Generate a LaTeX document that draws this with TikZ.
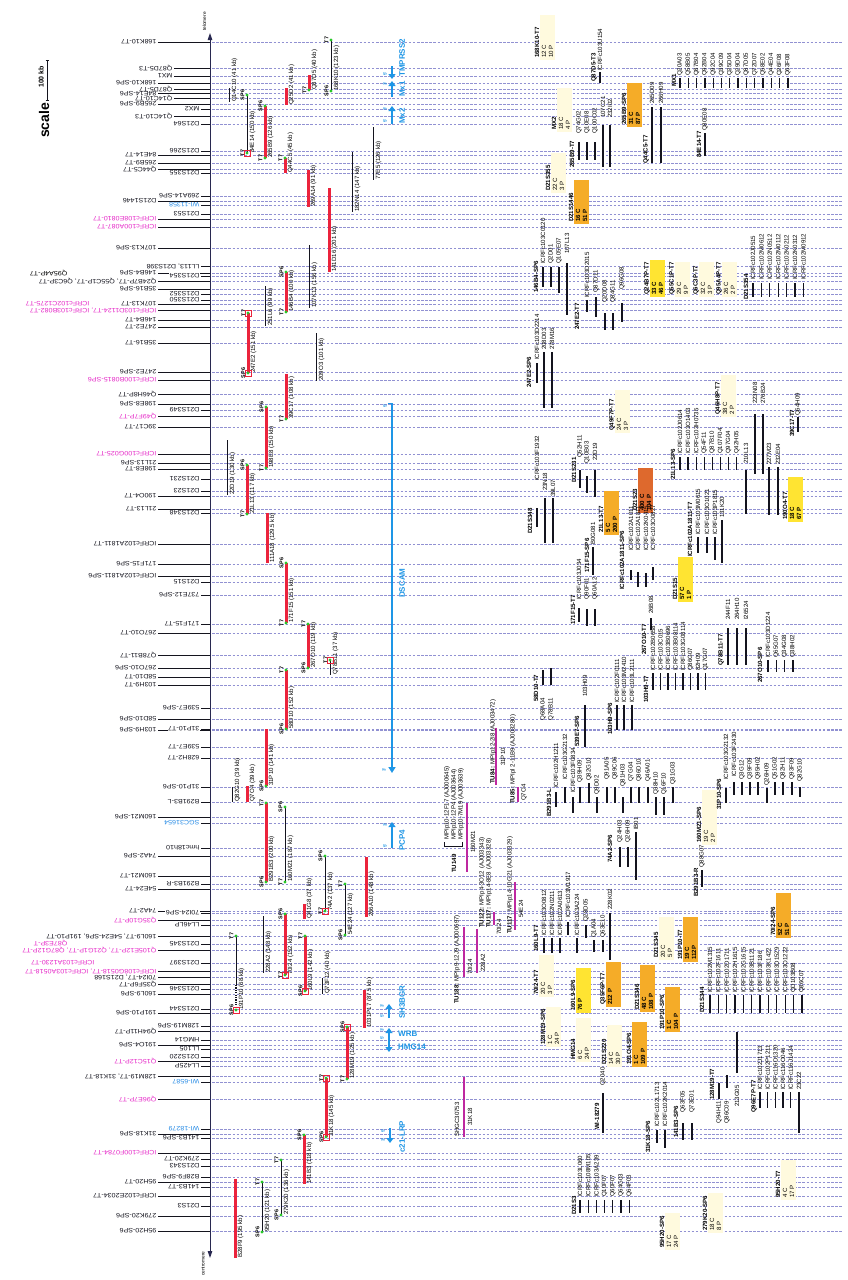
\documentclass[tikz,border=0pt]{standalone}
\usepackage{fontspec}
\setmainfont{Liberation Sans}
\usetikzlibrary{arrows.meta}
\definecolor{axcol}{RGB}{40,40,80}
\definecolor{dashc}{RGB}{145,145,210}
\definecolor{cM}{RGB}{230,40,200}
\definecolor{cB}{RGB}{40,140,230}
\definecolor{cK}{RGB}{20,20,30}
\definecolor{barred}{RGB}{235,35,60}
\definecolor{dotg}{RGB}{40,200,40}
\definecolor{genec}{RGB}{30,150,230}
\definecolor{tumag}{RGB}{190,40,160}
\definecolor{bxpale}{RGB}{255,250,222}
\definecolor{bxyel}{RGB}{255,228,50}
\definecolor{bxor}{RGB}{245,172,40}
\definecolor{bxdk}{RGB}{222,105,45}
\tikzset{
 lbl/.style={font=\fontsize{6.3}{7}\selectfont, inner sep=0.3pt, xscale=1.13, rotate=180, anchor=west},
 vt/.style={font=\fontsize{6.1}{6.8}\selectfont, inner sep=0pt, rotate=90, anchor=west},
 vtb/.style={vt, font=\fontsize{6.1}{6.8}\selectfont\bfseries},
 vte/.style={vt, anchor=east},
 endl/.style={font=\fontsize{5.4}{6}\selectfont\bfseries, inner sep=0pt, rotate=90, anchor=south},
 dl/.style={dashc, line width=0.35pt, dash pattern=on 2.5pt off 1.6pt},
 leader/.style={cK, line width=0.6pt},
 rbar/.style={barred, line width=3pt},
 kbar/.style={cK, line width=1pt},
 cdl/.style={cK, line width=1.3pt},
 tubar/.style={tumag, line width=2.6pt},
 gene/.style={genec, line width=2.4pt, -{Triangle[length=5pt,width=7pt]}},
 glab/.style={font=\fontsize{8}{9}\selectfont\bfseries, text=genec, inner sep=0pt, rotate=90, anchor=west},
 glabh/.style={font=\fontsize{8}{9}\selectfont\bfseries, text=genec, inner sep=0pt, anchor=west},
 prm/.style={font=\fontsize{4.5}{5}\selectfont\bfseries, text=genec, inner sep=0pt, rotate=90},
}
\newcommand\BAC[7]{%
  \draw[#1] (#2,#3) -- (#2,#4);
  \node[vt] at ({#2+5.5},#4) {#5};
  \if\relax\detokenize{#6}\relax\else
    \fill[dotg] (#2,#3) circle (1.7);
    \node[endl] at ({#2-2.5},#3) {#6};
  \fi
  \if\relax\detokenize{#7}\relax\else
    \fill[dotg] (#2,#4) circle (1.7);
    \node[endl] at ({#2-2.5},#4) {#7};
  \fi}
\newcommand\RSQ[2]{\draw[barred, line width=0.6pt] ({#1-3},{#2-3}) rectangle ({#1+3},{#2+3});}
\newcommand\CD[5]{\draw[cdl] ({#1},#2) -- ({#1},#3); \node[vt] at ({#1},#4) {#5};}
\newcommand\CDB[5]{\draw[cdl] ({#1},#2) -- ({#1},#3); \node[vte] at ({#1},#4) {#5};}
\newcommand\MK[3]{\node[vtb] at (#1,#2) {#3};}
\newcommand\CDROW[6]{\foreach \cdname [count=\cdi from 0] in {#6} {\CD{#1+#2*\cdi}{#3}{#4}{#5}{\cdname}}}
\newcommand\YBX[8]{%
  \fill[#1] (#2,#3) rectangle ({#2+15},#4);
  \node[vtb] at ({#2-3},{#4-2}) {#5};
  \node[#8] at ({#2+4},{#4-2}) {#6};
  \node[#8] at ({#2+11},{#4-2}) {#7};}
\def\marklist{42/157/cK/168K10-T7, 68.5/173/cK/Q87D5-T3, 76/173/cK/MX1, 83/157/cK/168K10-SP6,
89/173/cK/Q87D5-T7, 93.5/157/cK/84E14-SP6, 98.5/173/cK/Q14C10-T7, 104/157/cK/265B9-SP6,
109/200/cK/MX2, 116/173/cK/Q14C10-T3, 124/200/cK/D21S64, 151/200/cK/D21S266,
155/157/cK/84E14-T7, 163/157/cK/265B9-T7, 169/157/cK/Q44C5-T7, 173/200/cK/D21S355,
196/200/cK/269A14-SP6, 201/157/cK/D21S1446, 205/200/cB/WI-11358, 214/200/cK/D21S53,
219/157/cM/ICRFc108E0810-T7, 227/157/cM/ICRFc100A087-T7, 248/157/cK/107K13-SP6,
266/200/cK/{LL113, D21S398}, 273/157/cK/146B4-SP6, 276/200/cK/D21S354,
281/157/cK/{Q24B7P-T7, Q55C1P-T7, Q6C3P-T7}, 289/157/cK/35B16-SP6, 294/200/cK/D21S352,
300/200/cK/D21S350, 304/157/cK/107K13-T7, 310/157/cM/{ICRFc103D1124-T7, ICRFc103B082-T7},
320/157/cK/146B4-T7, 327/157/cK/247E2-T7, 343/157/cK/35B16-T7, 372/157/cK/247E2-SP6,
380/157/cM/ICRFc100B0815-SP6, 394/157/cK/Q46H8P-T7, 404/157/cK/198E8-SP6, 410/200/cK/D21S349,
416/157/cM/Q49F7P-T7, 427/157/cK/39C17-T7, 454/157/cM/ICRFc100G025-T7, 463/157/cK/21L13-SP6,
469/157/cK/198E8-T7, 479/200/cK/D21S231, 491/200/cK/D21S23, 496/157/cK/190O4-T7,
509/157/cK/21L13-T7, 513/200/cK/D21S348, 544/157/cK/ICRFc102A1811-T7, 564/157/cK/171F15-SP6,
576/157/cK/ICRFc102A1811-SP6, 582/200/cK/D21S15, 595/200/cK/737E12-SP6, 624/200/cK/171F15-T7,
633/157/cK/267O10-T7, 655/157/cK/Q78B11-T7, 668/157/cK/267O10-SP6, 677/157/cK/58D10-T7,
685/157/cK/103H9-T7, 708/200/cK/539E7-SP6, 719/157/cK/58D10-SP6, 729/200/cK/31P10-T7,
730/157/cK/103H9-SP6, 747/200/cK/539E7-T7, 758/200/cK/628H2-T7, 787/200/cK/31P10-SP6,
802/200/cK/B291B3-L, 817/157/cK/160M21-SP6, 823/200/cB/SGC31654, 848/200/cK/hmc18h10,
856/157/cK/74A2-SP6, 876/157/cK/160M21-T7, 884/200/cK/B291B3-R, 889/157/cK/54E24-T7,
911/157/cK/74A2-T7, 913/200/cK/70I24-SP6, 920/157/cM/Q35G10P-T7, 925/200/cK/LL46LP,
936/157/cK/{160L9-T7, 54E24-SP6, 191P10-T7}, 944/200/cK/D21S345,
950/157/cM/{Q105E12P-T7, Q21G1P-T7, Q87G12P-T7}, 963/200/cK/D21S397,
971/157/cM/{ICRFc108G0518-T7, ICRFc103A0518-T7}, 977/157/cK/{70I24-T7, D21S168},
984/157/cK/Q35F6P-T7, 989/200/cK/D21S346, 994/157/cK/160L9-SP6, 1009/200/cK/D21S344,
1013/157/cK/191P10-SP6, 1026/200/cK/128M19-SP6, 1031/157/cK/Q94H11P-T7, 1040/200/cK/HMG14,
1045/157/cK/191O4-SP6, 1049/200/cK/LL105, 1057/200/cK/D21S220, 1061/157/cM/Q15C12P-T7,
1066/200/cK/LL425P, 1076/157/cK/{128M19-T7, 31K18-T7}, 1082/200/cB/WI-6587,
1099/157/cM/Q96E7P-T7, 1129/200/cB/WI-18279, 1134/157/cK/31K18-SP6, 1138/200/cK/141B3-SP6,
1153/157/cM/ICRFc100F0784-T7, 1159/200/cK/279K20-T7, 1166/200/cK/D21S343, 1177/200/cK/B28F9-SP6,
1182/157/cK/95H20-T7, 1187/200/cK/141B3-T7, 1196/157/cK/ICRFc102E2034-T7, 1206/200/cK/D21S3,
1216/157/cK/279K20-SP6, 1231/157/cK/95H20-SP6}
\begin{document}
\begin{tikzpicture}[x=1pt,y=-1pt]
\fill[white] (0,0) rectangle (847,1280);
\path[use as bounding box] (0,0) rectangle (847,1280);
% dashed lines and leaders
\foreach \my/\mr/\mc/\mt in \marklist {
  \draw[dl] (212,\my) -- (842,\my);
  \draw[leader] ({\mr+1},\my) -- (210,\my);
}
% axis
\draw[axcol, line width=0.9pt, {Triangle[length=7pt,width=4.5pt]}-{Triangle[length=7pt,width=4.5pt]}] (210,33) -- (210,1258);
\node[font=\fontsize{4.8}{5}\selectfont, inner sep=0pt, rotate=90, anchor=west] (telo) at (204.5,31) {telomere};
\node[font=\fontsize{4.8}{5}\selectfont, inner sep=0pt, rotate=90, anchor=west] (centro) at (203,1276) {centromere};
% labels (near ones masked so that longer leaders pass under them)
\foreach \my/\mr/\mc/\mt in \marklist {
  \ifnum\mr>190
    \node[lbl, text=\mc, fill=white] at (\mr,\my) {\mt};
  \else
    \node[lbl, text=\mc] at (\mr,\my) {\mt};
  \fi
}
\node[lbl] at (68,273) {Q95A4P-T7};
\node[lbl, text=cM] at (90,304) {ICRFc102C1275-T7};
\node[lbl, text=cM] at (68,943) {Q87E3P-T};
\node[lbl, text=cM] at (95,963) {ICRFc103A1230-T7};
% scale
\node[font=\fontsize{14}{14}\selectfont\bfseries, inner sep=0pt, rotate=90, anchor=west] (scl) at (44,138) {scale};
\node[font=\fontsize{7}{7}\selectfont\bfseries, inner sep=0pt, rotate=90, anchor=west] (skb) at (41,88) {100 kb};
\draw[cK, line width=0.9pt] (45.5,60) -- (48.5,60) (47,60) -- (47,100) (45.5,100) -- (48.5,100);
% clones
\BAC{kbar}{229}{88}{102}{Q14C10 (41 kb)}{}{}
\BAC{kbar}{247}{95}{153}{84E14 (150 kb)}{SP6}{T7}\RSQ{247}{153}
\BAC{rbar}{265}{106}{158}{265B9 (126 kb)}{SP6}{T7}
\BAC{rbar}{286}{88}{105}{Q25D2 (41 kb)}{}{}
\BAC{rbar}{309}{75}{90}{Q87D5 (40 kb)}{}{T7}
\BAC{kbar}{331}{40}{91}{168K10 (123 kb)}{T7}{SP6}
\BAC{rbar}{285}{158}{173}{Q44C5 (45 kb)}{T7}{}
\BAC{rbar}{308}{170}{207}{269A14 (91 kb)}{}{}
\BAC{kbar}{352}{152}{212}{182N14 (147 kb)}{}{}
\BAC{kbar}{373}{127}{180}{77E5 (126 kb)}{}{}
\BAC{rbar}{329}{188}{272}{141D16 (201 kb)}{}{}
\BAC{kbar}{309}{245}{308}{107K13 (156 kb)}{}{}
\BAC{rbar}{286}{272}{312}{146B4 (100 kb)}{SP6}{T7}
\BAC{kbar}{265}{286}{326}{251L6 (99 kb)}{}{}
\BAC{rbar}{248}{313}{373}{247E2 (151 kb)}{T7}{SP6}\RSQ{248}{313}\RSQ{248}{373}
\BAC{kbar}{316}{333}{381}{209O3 (101 kb)}{}{}
\BAC{rbar}{286}{374}{419}{39C17 (108 kb)}{}{T7}
\BAC{rbar}{266}{407}{468}{198E8 (150 kb)}{SP6}{T7}
\BAC{kbar}{227}{440}{495}{22D19 (130 kb)}{}{}
\BAC{rbar}{247}{465}{514}{21L13 (117 kb)}{SP6}{T7}
\BAC{rbar}{267}{513}{563}{111A18 (129.5 kb)}{}{}
\BAC{rbar}{286}{563}{623}{171F15 (151 kb)}{SP6}{T7}
\BAC{rbar}{308}{624}{668}{267O10 (119 kb)}{T7}{SP6}
\BAC{kbar}{330}{660}{675}{Q78B11 (37 kb)}{T7}{}\RSQ{330}{660}
\BAC{rbar}{286}{670}{729}{58D10 (152 kb)}{T7}{SP6}
\BAC{rbar}{266}{729}{786}{31P10 (141 kb)}{}{SP6}
\BAC{kbar}{232}{787}{802}{Q82G10 (39 kb)}{}{}
\BAC{rbar}{247}{786}{802}{Q7O4 (39 kb)}{}{}
\BAC{rbar}{266}{803}{882}{B291B3 (200 kb)}{T7}{SP6}
\BAC{kbar}{285}{807}{882}{160M21 (187 kb)}{SP6}{T7}
\BAC{kbar}{325}{856}{911}{74A2 (137 kb)}{SP6}{T7}\RSQ{325}{911}
\BAC{kbar}{345}{884}{935}{54E24 (127 kb)}{T7}{SP6}
\BAC{rbar}{366}{857}{917}{266A10 (148 kb)}{}{}
\BAC{rbar}{304}{904}{919}{Q41G8 (37 kb)}{}{}
\BAC{rbar}{285}{914}{975}{70I24 (152 kb)}{SP6}{T7}\RSQ{285}{975}
\BAC{rbar}{305}{936}{991}{160L9 (142 kb)}{T7}{SP6}\RSQ{305}{991}
\BAC{kbar}{263}{916}{973}{228A2 (148 kb)}{}{}
\draw[kbar] (236,936) -- (236,985);
\draw[cK, line width=1.2pt, dash pattern=on 1.2pt off 1.2pt] (236,985) -- (236,1010);
\node[vt] at (241.5,1010) {191P10 (68 kb)};
\fill[dotg] (236,936) circle (1.7); \node[endl] at (233.5,936) {T7};
\fill[dotg] (236,1010) circle (1.7); \node[endl] at (233.5,1010) {SP6}; \RSQ{236}{1010}
\BAC{kbar}{322}{978}{994}{Q73F12 (40 kb)}{}{}
\BAC{rbar}{364}{990}{1028}{1031P17 (87.5 kb)}{}{}
\BAC{rbar}{347}{1027}{1079}{128M19 (125 kb)}{SP6}{T7}\RSQ{347}{1027}
\BAC{rbar}{326}{1078}{1137}{31K18 (145 kb)}{T7}{SP6}\RSQ{326}{1078}\RSQ{326}{1137}
\BAC{rbar}{304}{1135}{1184}{141B3 (118 kb)}{SP6}{}
\BAC{kbar}{281}{1160}{1215}{279K20 (136 kb)}{T7}{SP6}
\BAC{kbar}{262}{1182}{1232}{95H20 (121 kb)}{T7}{SP6}
\BAC{rbar}{235}{1179}{1258}{B28F9 (195 kb)}{}{}
% genes
\draw[gene] (392,66) -- (392,79);
\node[glab] (tmp) at (402,77) {TMPRSS2};
\draw[gene] (392,97) -- (392,81);
\node[glab] (mx1) at (402,97) {Mx1};
\draw[gene] (392,124) -- (392,106);
\node[glab] (mx2) at (402,124) {Mx2};
\node[prm] at (385,74) {5'}; \node[prm] at (385,84) {3'};
\node[prm] at (385,109) {3'}; \node[prm] at (385,121) {5'};
\draw[genec, line width=2pt, -{Triangle[length=6pt,width=7pt]}] (392,403) -- (392,773);
\draw[genec, line width=1pt] (388,403) -- (392,403);
\node[prm] at (385,406) {5'}; \node[prm] at (384,770) {3'};
\node[glab] (dscam) at (402,598) {DSCAM};
\draw[gene] (392,848) -- (392,822);
\node[glab] (pcp4) at (402,851) {PCP4};
\node[prm] at (385,846) {5'}; \node[prm] at (385,825) {3'};
\draw[gene] (389,1018) -- (389,1004);
\node[glab] (sh3) at (402,1019) {SH3BGR};
\node[prm] at (382,1016) {5'}; \node[prm] at (382,1006) {3'};
\draw[gene] (389,1041) -- (389,1028);
\node[glabh] (wrb) at (398,1034) {WRB};
\node[prm] at (382,1038) {5'}; \node[prm] at (382,1030) {3'};
\draw[gene] (389,1040) -- (389,1052);
\node[glabh] (hmg) at (398,1047) {HMG14};
\draw[gene] (390,1128) -- (390,1143);
\node[glab] (lrp) at (402,1153) {c21-LRP};
\node[prm] at (383,1131) {5'}; \node[prm] at (383,1140) {3'};
% magenta transcripts
\node[vt] at (447,840) {MPIp10-12F17 (AJ000645)};
\node[vt] at (454,840) {MPIp10-12P4 (AJ003644)};
\node[vt] at (461,840) {MPIp10-7M19 (AJ003639)};
\draw[cK, line width=0.5pt] (444,842) -- (444,846) -- (462,846) -- (462,842);
\node[vtb] at (454,873) {TU149};
\draw[tubar] (467,803) -- (467,872); \node[vt] at (473,853) {160M21};
\node[vt] at (457,1004) {\textbf{TU188:} MPIp9-12J9 (AJ000697)};
\draw[tubar] (464,927) -- (464,977); \node[vt] at (470,975) {70I24};
\draw[tubar] (477,929) -- (477,973); \node[vt] at (483,972) {228A2};
\node[vt] at (482,928) {\textbf{TU122:} MPIp4-3O12 (AJ003343)};
\node[vt] at (489,928) {\textbf{TU117:} MPIp14-8E8 (AJ003328)};
\draw[tubar] (494,912) -- (494,925); \node[vt] at (499,935) {70I24};
\node[vt] at (510,934) {\textbf{TU117:} MPIp14-10G21 (AJ003329)};
\draw[tubar] (515,882) -- (515,930); \node[vt] at (521,918) {54E24};
\draw[tubar] (496,728) -- (496,785);
\node[vt] at (493,784) {\textbf{TU84:} MPIp12-2I8 (AJ003472)};
\node[vt] at (503,766) {31P10};
\draw[tubar] (518,787) -- (518,802);
\node[vt] at (513,804) {\textbf{TU85:} MPIpl 2-11B9 (AJ003280)};
\node[vt] at (524,801) {Q7O4};
\draw[tubar] (464,1077) -- (464,1137);
\node[vt] at (457,1137) {SHGC30753}; \node[vt] at (470,1126) {31K18};
% right side: boxes and cDNA groups
\YBX{bxpale}{540}{15}{60}{168K10-T7}{12 C}{10 P}{vt}
\MK{594}{82}{Q87D5-T3} \CD{600}{72}{83}{71}{ICRFc103U154}
\YBX{bxpale}{557}{88}{132}{MX2}{18 C}{4 P}{vt}
\CD{579}{142}{160}{134}{Q74G02} \CD{587}{142}{160}{134}{Q10E08} \CD{595}{142}{160}{134}{Q100C02}
\CD{603}{125}{167}{118}{107C21} \CD{610}{125}{167}{118}{232I02}
\MK{572}{168}{265B9-T7}
\YBX{bxor}{627}{83}{127}{265B9-SP6}{31 C}{87 P}{vtb}
\CD{652}{107}{163}{104}{265D09} \CD{661}{107}{163}{104}{266H09}
\MK{646}{164}{Q44C5-T7}
\MK{699}{158}{84E14-T7} \CD{705}{133}{156}{131}{Q80E08}
\MK{674}{87}{MX1}
\CDROW{680}{8.3}{78}{88}{76}{Q20A03,Q58B05,Q87B04,Q92B04,Q92C04,Q39C09,Q25D04,Q29D04,Q87D05,Q72D07,Q58E02,Q44E04,Q26F08,Q63F08}
\YBX{bxpale}{551}{153}{193}{D21S355}{22 C}{3 P}{vt}
\YBX{bxor}{574}{180}{224}{D21S1446}{16 C}{51 P}{vtb}
\MK{536}{293}{146B4-SP6}
\CD{543}{267}{287}{264}{ICRFc103C0120} \CD{551}{267}{287}{264}{Q2D01} \CD{559}{267}{293}{264}{Q105E07} \CD{567}{263}{315}{254}{107L13}
\MK{577}{330}{247E2-T7}
\CD{587}{300}{312}{298}{ICRFc103D2015} \CD{596}{297}{317}{293}{Q87D11} \CD{605}{313}{330}{303}{Q20D08}
\CD{613}{313}{330}{303}{Q84G11} \CD{622}{303}{322}{290}{Q96G08}
\YBX{bxyel}{650}{260}{297}{Q24B7P-T7}{33 C}{46 P}{vtb}
\YBX{bxpale}{675}{262}{297}{Q55C1P-T7}{29 C}{9 P}{vt}
\YBX{bxpale}{699}{262}{297}{Q6C3P-T7}{32 C}{3 P}{vt}
\YBX{bxpale}{722}{262}{297}{Q95A4P-T7}{26 C}{2 P}{vt}
\MK{746}{300}{D21S354}
\CDROW{753}{8.4}{283}{297}{280}{ICRFc102J0515,ICRFc102M0612,ICRFc102N0512,ICRFc102M0112,ICRFc102K0212,ICRFc102K0312,ICRFc102M0912}
\MK{529}{388}{247E2-SP6}
\CD{537}{363}{383}{360}{ICRFc103D2214} \CD{544}{352}{408}{350}{208D03} \CD{552}{352}{408}{350}{278M16}
\YBX{bxpale}{615}{390}{433}{Q49F7P-T7}{24 C}{3 P}{vt}
\MK{673}{480}{21L13-SP6}
\CDROW{680}{8.1}{457}{470}{454}{ICRFc102J0614,ICRFc103O1403,ICRFc103H0735,Q54F11,Q87B10,Q107F04,Q97G04,Q42H05}
\YBX{bxpale}{721}{375}{417}{Q46H8P-T7}{38 C}{2 P}{vt}
\CD{746}{470}{514}{464}{210L13}
\CD{755}{414}{474}{404}{223N08} \CD{763}{414}{474}{404}{276B24}
\CD{769}{467}{515}{465}{227M23} \CD{778}{467}{515}{465}{232E04}
\MK{792}{437}{39C17-T7} \CD{798}{417}{432}{416}{Q64H09}
\YBX{bxyel}{788}{477}{522}{190O4-T7}{18 C}{67 P}{vtb}
\YBX{bxdk}{638}{468}{513}{D21S23}{400 C}{104 P}{vtb}
\YBX{bxor}{604}{491}{535}{21L13-T7}{5 C}{200 P}{vtb}
\MK{574}{483}{D21S231}
\CD{580}{470}{488}{458}{Q52H11} \CD{587}{476}{493}{464}{Q10B03} \CD{595}{470}{497}{461}{22D19}
\MK{530}{534}{D21S348}
\CD{537}{508}{527}{481}{ICRFc103F1932} \CD{545}{498}{543}{491}{23N18} \CD{553}{498}{543}{497}{39L07}
\MK{587}{573}{171F15-SP6} \CD{593}{547}{575}{545}{B0G081}
\MK{622}{590}{ICRFc102A1811-SP6}
\CD{631}{570}{580}{551}{ICRFc102A1011} \CD{638}{572}{587}{551}{ICRFc102A1811} \CD{646}{573}{587}{551}{ICRFc102K0415} \CD{653}{567}{580}{551}{ICRFc103O0827}
\MK{690}{557}{ICRFc102A1811-T7}
\CD{698}{537}{553}{535}{ICRFc103M0615} \CD{707}{537}{553}{535}{ICRFc103O1021} \CD{715}{537}{560}{535}{ICRFc103P1815} \CD{722}{520}{563}{518}{131K20}
\YBX{bxyel}{678}{557}{602}{D21S15}{57 C}{1 P}{vtb}
\MK{573}{625}{171F15-T7}
\CD{579}{608}{622}{600}{ICRFc103J034} \CD{587}{609}{626}{600}{Q90F01} \CD{595}{609}{626}{600}{Q60A12}
\MK{644}{655}{267O10-T7} \CD{651}{618}{630}{614}{26B08}
\MK{646}{703}{103H9-T7}
\CDROW{653}{7.5}{673}{690}{671}{ICRFc102B0658,ICRFc103C015,ICRFc103B0696,ICRFc103B08114,ICRFc103G08114,Q86G07,82H09,Q17G07}
\MK{721}{666}{Q78B11-T7}
\CD{728}{628}{665}{620}{244F11} \CD{737}{628}{665}{620}{264H10} \CD{746}{628}{665}{620}{I26524}
\MK{760}{683}{267O10-SP6}
\CDROW{768}{8.3}{660}{672}{658}{ICRFc103D1224,Q65G07,Q34G08,Q38H02}
\MK{536}{702}{58D10-T7}
\CDB{543}{670}{685}{698}{Q68A04} \CDB{551}{668}{685}{698}{Q78B11}
\MK{577}{747}{539E7-SP6} \CD{585}{705}{747}{697}{103H09}
\MK{610}{735}{103H9-SP6}
\CD{617}{705}{730}{703}{ICRFc102F0111} \CD{624}{705}{730}{703}{ICRFc103M2410} \CD{632}{705}{730}{703}{ICRFc103L2111}
\MK{549}{817}{B291B3-L}
\CD{556}{792}{807}{788}{ICRFc102H1211} \CD{565}{787}{803}{780}{ICRFc103G2132} \CD{573}{797}{813}{793}{ICRFc103F0834}
\CD{580}{787}{803}{783}{Q39H09} \CD{589}{783}{803}{781}{Q82G10} \CD{597}{797}{813}{795}{Q9D02}
\CD{607}{787}{803}{780}{Q91A05} \CD{615}{787}{803}{780}{Q89C06} \CD{623}{797}{813}{787}{Q81H03}
\CD{631}{787}{803}{782}{Q7G04} \CD{639}{787}{803}{782}{Q86D10} \CD{648}{787}{803}{782}{Q46A01}
\CD{656}{797}{815}{795}{Q38H10} \CD{664}{797}{815}{795}{Q16F10} \CD{673}{787}{803}{785}{Q31G03}
\MK{610}{863}{74A2-SP6}
\CD{620}{847}{867}{843}{Q24H03} \CD{628}{847}{867}{843}{Q26H09} \CD{636}{832}{880}{830}{IB01}
\MK{696}{897}{B291B3-R} \CD{702}{870}{887}{868}{Q88G07}
\YBX{bxpale}{702}{790}{845}{160M21-SP6}{19 C}{2 P}{vt}
\MK{719}{810}{31P10-SP6}
\CD{726}{788}{803}{780}{ICRFc103G2132} \CD{734}{782}{795}{777}{ICRFc103F2430} \CD{742}{782}{795}{780}{Q3G12}
\CD{750}{782}{795}{780}{Q39F09} \CD{758}{782}{795}{780}{Q95H02} \CD{767}{788}{803}{786}{Q26H09}
\CD{775}{782}{795}{780}{Q51G02} \CD{783}{782}{795}{780}{Q82H11} \CD{792}{782}{795}{780}{Q93F09} \CD{800}{787}{797}{782}{Q82G10}
\MK{536}{952}{160L9-T7}
\CD{544}{938}{953}{936}{ICRFc103O0812} \CD{552}{938}{953}{936}{ICRFc102N0211} \CD{560}{938}{953}{936}{ICRFc102A0613}
\CD{568}{922}{935}{918}{ICRFc103M1917} \CD{577}{938}{953}{936}{ICRFc103A224} \CD{586}{925}{938}{922}{Q28D05}
\CD{594}{940}{952}{938}{Q1A04} \CD{603}{940}{952}{938}{Q63E10} \CD{610}{913}{960}{910}{228K02}
\YBX{bxpale}{659}{917}{960}{D21S345}{20 C}{5 P}{vt}
\YBX{bxor}{683}{917}{962}{191P10-T7}{19 C}{112P}{vtb}
\YBX{bxor}{776}{893}{938}{70I24-SP6}{52 C}{51 P}{vtb}
\YBX{bxpale}{539}{955}{997}{70I24-T7}{20 C}{3 P}{vt}
\YBX{bxyel}{576}{968}{1013}{160L9-SP6}{76 P}{}{vtb}
\YBX{bxor}{606}{962}{1007}{Q35F6P-T7}{212 P}{}{vtb}
\YBX{bxor}{640}{965}{1012}{D21S346}{48 C}{108 P}{vtb}
\YBX{bxor}{665}{987}{1032}{191P10-SP6}{1 C}{104 P}{vtb}
\MK{702}{1013}{D21S344}
\CDROW{710}{8.35}{995}{1013}{993}{ICRFc102M1315,ICRFc102F1611,ICRFc102D1711,ICRFc102H1615,ICRFc102G1615,ICRFc103B1121,ICRFc103F186,ICRFc103K1422,ICRFc103D1529,ICRFc103O1222,QD103B08,Q86C07}
\YBX{bxpale}{546}{1007}{1047}{128M19-SP6}{1 C}{24 P}{vt}
\YBX{bxpale}{576}{1018}{1062}{HMG14}{6 C}{24 P}{vt}
\YBX{bxpale}{607}{1025}{1067}{D21S220}{14 C}{30 P}{vt}
\YBX{bxor}{632}{1022}{1067}{191O4-SP6}{1 C}{109 P}{vtb}
\CDB{737}{1032}{1073}{1085}{213G05}
\MK{712}{1100}{128M19-T7}
\CDB{719}{1083}{1099}{1101}{Q94H11} \CDB{727}{1075}{1088}{1101}{Q86C09}
\MK{754}{1113}{Q96E7P-T7}
\CDROW{760}{7.7}{1092}{1108}{1090}{ICRFc102J1713,ICRFc102P1211,ICRFc116D1320,ICRFc116O046,ICRFc116J1424}
\CD{799}{1092}{1133}{1090}{23C22}
\MK{597}{1130}{WI-18279} \CD{603}{1093}{1133}{1086}{Q2040}
\MK{648}{1153}{31K18-SP6}
\CD{657}{1130}{1143}{1127}{ICRFc102L1713} \CD{665}{1130}{1148}{1127}{ICRFc102K2014}
\MK{676}{1138}{141B3-SP6}
\CD{683}{1123}{1140}{1113}{Q63F05} \CD{692}{1123}{1140}{1113}{Q73E01}
\MK{574}{1215}{D21S3}
\CDROW{580}{8.2}{1200}{1213}{1197}{ICRFc103L060,ICRFc108M105,ICRFc103A239,Q10F07,Q60F07,Q64G03,Q64F03}
\YBX{bxpale}{665}{1213}{1250}{95H20-SP6}{17 C}{24 P}{vt}
\YBX{bxpale}{708}{1193}{1233}{279K20-SP6}{18 C}{8 P}{vt}
\YBX{bxpale}{781}{1160}{1200}{95H20-T7}{4 C}{17 P}{vt}
\end{tikzpicture}
\end{document}
